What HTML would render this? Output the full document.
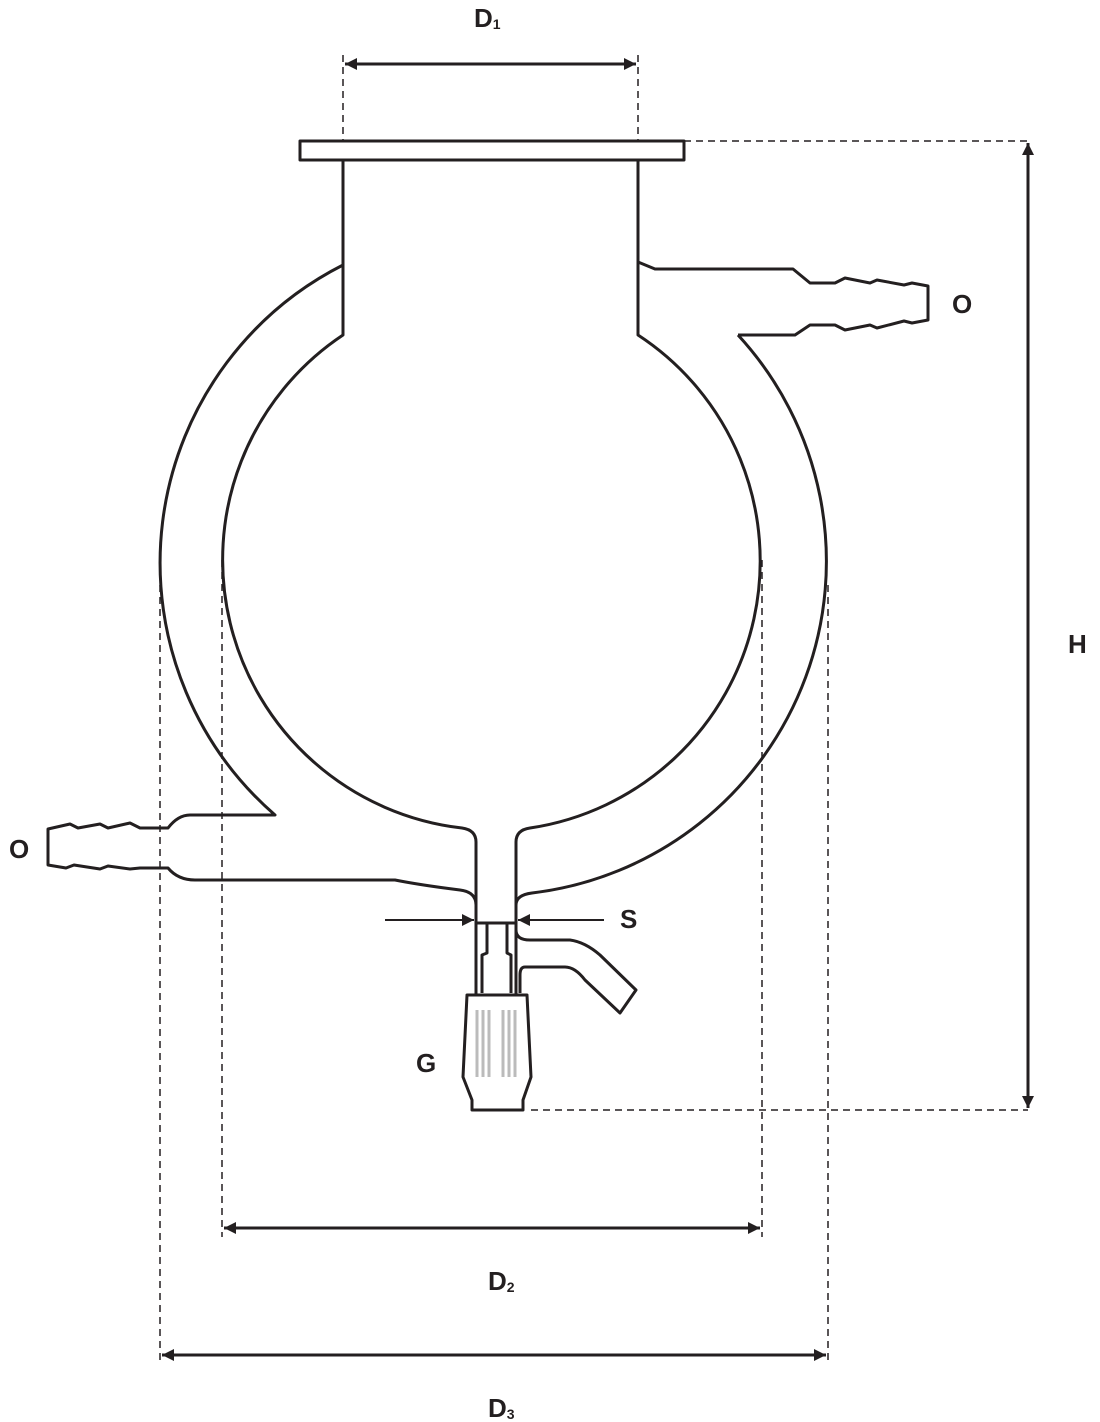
<!DOCTYPE html>
<html><head><meta charset="utf-8"><style>
html,body{margin:0;padding:0;background:#fff;width:1100px;height:1422px;overflow:hidden}
text{font-family:"Liberation Sans",Arial,sans-serif;font-weight:bold;fill:#231f20}
</style></head><body>
<svg width="1100" height="1422" viewBox="0 0 1100 1422" xmlns="http://www.w3.org/2000/svg">
<defs>
<marker id="b" viewBox="0 0 10 10" refX="10" refY="5" markerWidth="18" markerHeight="12" orient="auto-start-reverse" markerUnits="userSpaceOnUse"><path d="M0,0 L10,5 L0,10 Z" fill="#231f20"/></marker>
</defs>
<g fill="none" stroke="#231f20" stroke-width="1.5" stroke-dasharray="7,5">
<line x1="343" y1="55" x2="343" y2="141"/><line x1="638" y1="55" x2="638" y2="141"/>
<line x1="684" y1="141" x2="1028" y2="141"/><line x1="531" y1="1110" x2="1028" y2="1110"/>
<line x1="222" y1="560" x2="222" y2="1237"/><line x1="762" y1="560" x2="762" y2="1237"/>
<line x1="160" y1="585" x2="160" y2="1365"/><line x1="828" y1="585" x2="828" y2="1365"/>
</g>
<g stroke="#231f20" stroke-width="3" fill="none">
<line x1="345" y1="64" x2="636" y2="64" marker-start="url(#b)" marker-end="url(#b)"/>
<line x1="1028" y1="143" x2="1028" y2="1108" marker-start="url(#b)" marker-end="url(#b)"/>
<line x1="224" y1="1228" x2="760" y2="1228" marker-start="url(#b)" marker-end="url(#b)"/>
<line x1="162" y1="1355" x2="826" y2="1355" marker-start="url(#b)" marker-end="url(#b)"/>
<line x1="385" y1="920" x2="474" y2="920" stroke-width="2" marker-end="url(#b)"/>
<line x1="604" y1="920" x2="518" y2="920" stroke-width="2" marker-end="url(#b)"/>
</g>
<g stroke="#231f20" stroke-width="3" fill="none" stroke-linejoin="round">
<rect x="300" y="141" width="384" height="19"/>
<path d="M343,160 L343,335 A270,270 0 0 0 462,828 Q476,830 476,842 L476,995"/>
<path d="M638,160 L638,335 A270,270 0 0 1 530,828 Q516,830 516,842 L516,995"/>
<path d="M343,265 A334,334 0 0 0 275,815 L190,815 Q178,815 168,828 L140,828 L130,823 L108,828 L100,824 L78,828 L70,824 L48,829 L48,865 L66,868 L74,865 L100,869 L108,866 L130,869 L140,868 L168,868 Q178,880 195,880 L395,880 Q420,885 460,890 Q476,892 476,905"/>
<path d="M738,335 L795,335 L810,325 L835,325 L845,330 L870,325 L877,328 L904,321 L912,323 L928,320 L928,286 L912,283 L904,285 L877,280 L870,283 L845,278 L835,283 L810,283 L793,269 L655,269 L638,262"/>
<path d="M738,335 A334,334 0 0 1 532,893 Q516,895 516,905"/>
<line x1="477" y1="923" x2="515" y2="923"/>
<path d="M487,923 L487,953 L482,955 L482,993 M507,923 L507,953 L511,955 L511,993"/>
<path d="M516,930 Q516,940 530,940 L570,940 Q585,942 600,955 L636,990 L620,1013 L585,980 Q575,967 565,967 L525,967 Q520,967 520,975 L520,993"/>
<path d="M467,995 L527,995 L531,1077 L523,1100 L523,1110 L472,1110 L472,1100 L463,1077 Z"/>
</g>
<g stroke="#bbb" stroke-width="3">
<line x1="477" y1="1010" x2="477" y2="1077"/><line x1="483" y1="1010" x2="483" y2="1077"/><line x1="489" y1="1010" x2="489" y2="1077"/>
<line x1="503" y1="1010" x2="503" y2="1077"/><line x1="509" y1="1010" x2="509" y2="1077"/><line x1="515" y1="1010" x2="515" y2="1077"/>
</g>
<text x="474" y="27" font-size="26">D<tspan font-size="14" dy="2">1</tspan></text>
<text x="1068" y="653" font-size="26">H</text>
<text x="488" y="1290" font-size="26">D<tspan font-size="14" dy="2">2</tspan></text>
<text x="488" y="1417" font-size="26">D<tspan font-size="14" dy="2">3</tspan></text>
<text x="952" y="313" font-size="26">O</text>
<text x="9" y="858" font-size="26">O</text>
<text x="620" y="928" font-size="26">S</text>
<text x="416" y="1072" font-size="26">G</text>
</svg>
</body></html>
